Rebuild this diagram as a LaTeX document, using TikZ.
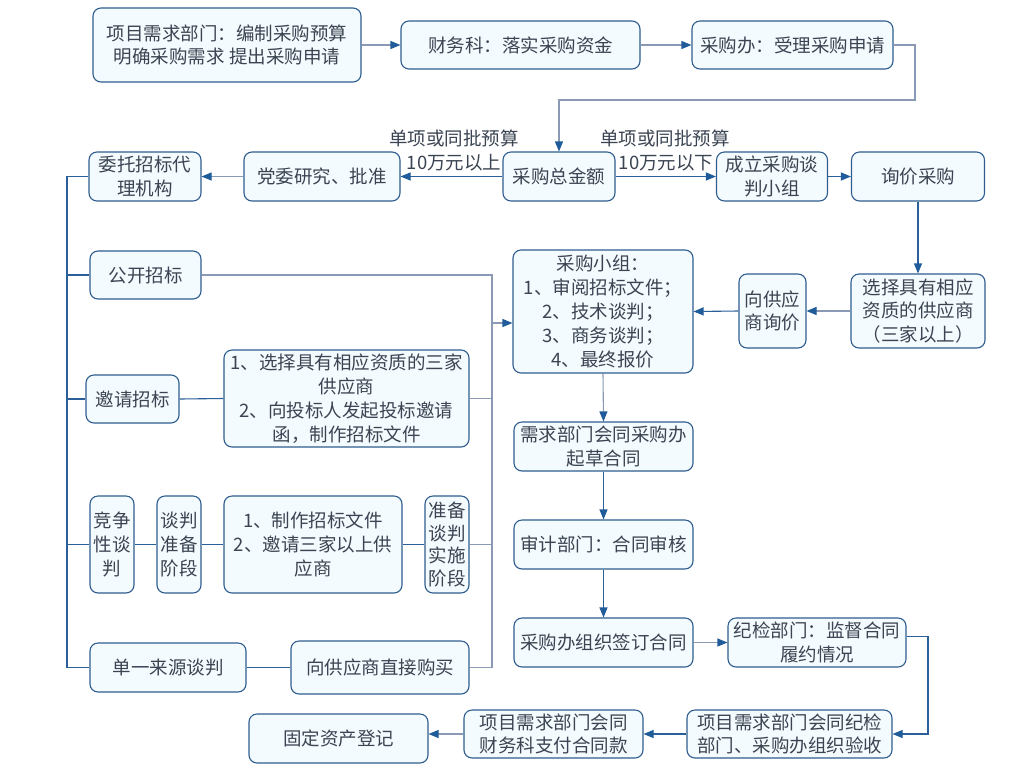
\documentclass[tikz,border=0pt]{standalone}
\usepackage{fontspec}
\setmainfont{Noto Sans CJK SC}
\usetikzlibrary{arrows.meta}
\definecolor{boxfill}{HTML}{F4FBFE}
\definecolor{boxdraw}{HTML}{2F5D8F}
\definecolor{txt}{HTML}{3B4452}
\definecolor{lnblue}{HTML}{2A5F9A}
\definecolor{lngray}{HTML}{8A9AB4}
\definecolor{tipblue}{HTML}{1F5C99}
\begin{document}
\begin{tikzpicture}[x=1pt,y=-1pt,
  box/.style 2 args={draw=boxdraw, fill=boxfill, rounded corners=8pt, line width=1.1pt,
    inner sep=0pt, align=center, text=txt, font=\fontsize{18.5}{23.8}\selectfont,
    minimum width=#1, minimum height=#2},
  lbl/.style={inner sep=0pt, text=txt, font=\fontsize{18.5}{23.8}\selectfont},
  link/.style={line width=1.1pt, draw=lnblue},
  glink/.style={line width=1.1pt, draw=lngray},
  arr/.style={-{Triangle[length=10pt,width=8pt,color=tipblue]}}]

\fill[white] (0,0) rectangle (1028,772);
\useasboundingbox (0,0) rectangle (1028,772);

% branch labels beside the budget node
\node[lbl] (l1a) at (454,138) {单项或同批预算};
\node[lbl] (l1b) at (454,163) {10万元以上};
\node[lbl] (l2a) at (665,138) {单项或同批预算};
\node[lbl] (l2b) at (666,163) {10万元以下};

% top row
\node[box={268pt}{74pt}] (A) at (227,45) {项目需求部门：编制采购预算\\明确采购需求 提出采购申请};
\node[box={239pt}{48pt}] (B) at (520.5,45) {财务科：落实采购资金};
\node[box={201pt}{48pt}] (C) at (792.5,45) {采购办：受理采购申请};

% second row
\node[box={112pt}{49pt}] (D) at (559,176.5) {采购总金额};
\node[box={156pt}{49pt}] (E) at (322,176.5) {党委研究、批准};
\node[box={112pt}{49pt}] (F) at (145,176.5) {委托招标代\\理机构};
\node[box={111pt}{49pt}] (G) at (772,176.5) {成立采购谈\\判小组};
\node[box={133pt}{49pt}] (H) at (918,176.5) {询价采购};

% inquiry branch
\node[box={134pt}{74pt}] (I) at (918,311) {选择具有相应\\资质的供应商\\（三家以上）};
\node[box={67pt}{74pt}] (J) at (772.5,311) {向供应\\商询价};
\node[box={180pt}{123pt}] (K) at (603,311.5) {采购小组：\\1、审阅招标文件；\\2、技术谈判；\\3、商务谈判；\\4、最终报价};

% tendering methods
\node[box={111pt}{48pt}] (L) at (145.5,275) {公开招标};
\node[box={93pt}{48pt}] (M) at (132.5,399) {邀请招标};
\node[box={245pt}{97pt}] (N) at (346.5,398.5) {1、选择具有相应资质的三家\\供应商\\2、向投标人发起投标邀请\\函，制作招标文件};
\node[box={44pt}{97pt}] (O) at (112,544.5) {竞争\\性谈\\判};
\node[box={44pt}{97pt}] (P) at (179,544.5) {谈判\\准备\\阶段};
\node[box={178pt}{97pt}] (Q) at (313,544.5) {1、制作招标文件\\2、邀请三家以上供\\应商};
\node[box={44pt}{97pt}, font=\fontsize{18.5}{22.5}\selectfont] (R) at (447,544.5) {准备\\谈判\\实施\\阶段};
\node[box={156pt}{49pt}] (S) at (168,667.5) {单一来源谈判};
\node[box={178pt}{53pt}] (T) at (380,667.5) {向供应商直接购买};

% contract chain
\node[box={179pt}{49pt}] (U) at (603.5,446.5) {需求部门会同采购办\\起草合同};
\node[box={179pt}{49pt}] (V) at (603.5,544.5) {审计部门：合同审核};
\node[box={179pt}{49pt}] (W) at (603.5,642.5) {采购办组织签订合同};
\node[box={178pt}{49pt}] (X) at (817,642.5) {纪检部门：监督合同\\履约情况};
\node[box={205pt}{48pt}] (Y) at (789.5,734) {项目需求部门会同纪检\\部门、采购办组织验收};
\node[box={179pt}{48pt}] (Z) at (553.5,734) {项目需求部门会同\\财务科支付合同款};
\node[box={179pt}{49pt}] (AA) at (338.5,738.5) {固定资产登记};

% turning points of the routed connectors
\coordinate (cturn) at (915,100);
\coordinate (lbus) at (67,0);
\coordinate (rbus) at (492,0);
\coordinate (rin) at (492,323);
\coordinate (xturn) at (928,0);

% top flow
\draw[glink,arr] (A.east) -- (B.west);
\draw[glink,arr] (B.east) -- (C.west);
\draw[glink,arr] (C.east) -| (cturn) -| (D.north);

% budget split
\draw[link,arr] (D.west) -- (E.east);
\draw[glink,arr] (E.west) -- (F.east);
\draw[link,arr] (D.east) -- (G.west);
\draw[link,arr] (G.east) -- (H.west);
\draw[link,arr] (H.south) -- (I.north);
\draw[glink,arr] (I.west) -- (J.east);
\draw[link,arr] (J.west) -- (K.east);

% left bus to the procurement methods
\draw[link] (F.west) -- (F.west -| lbus) -- (S.west -| lbus) -- (S.west);
\draw[link] (L.west -| lbus) -- (L.west);
\draw[link] (M.west -| lbus) -- (M.west);
\draw[link] (O.west -| lbus) -- (O.west);

% rows joined into the right bus
\draw[link] (M.east) -- (N.west);
\draw[link] (O.east) -- (P.west);
\draw[link] (P.east) -- (Q.west);
\draw[link] (Q.east) -- (R.west);
\draw[link] (S.east) -- (T.west);
\draw[glink] (L.east) -- (L.east -| rbus) -- (T.east -| rbus) -- (T.east);
\draw[glink] (N.east) -- (N.east -| rbus);
\draw[glink] (R.east) -- (R.east -| rbus);
\draw[glink,arr] (rin) -- (rin -| K.west);

% contract chain
\draw[glink,arr] (K.south) -- (U.north);
\draw[link,arr] (U.south) -- (V.north);
\draw[link,arr] (V.south) -- (W.north);
\draw[glink,arr] (W.east) -- (X.west);
\draw[link,arr] ([yshift=6pt]X.east) -| (xturn |- Y.east) -- (Y.east);
\draw[link,arr] (Y.west) -- (Z.east);
\draw[glink,arr] (Z.west) -- (Z.west -| AA.east);
\end{tikzpicture}
\end{document}
